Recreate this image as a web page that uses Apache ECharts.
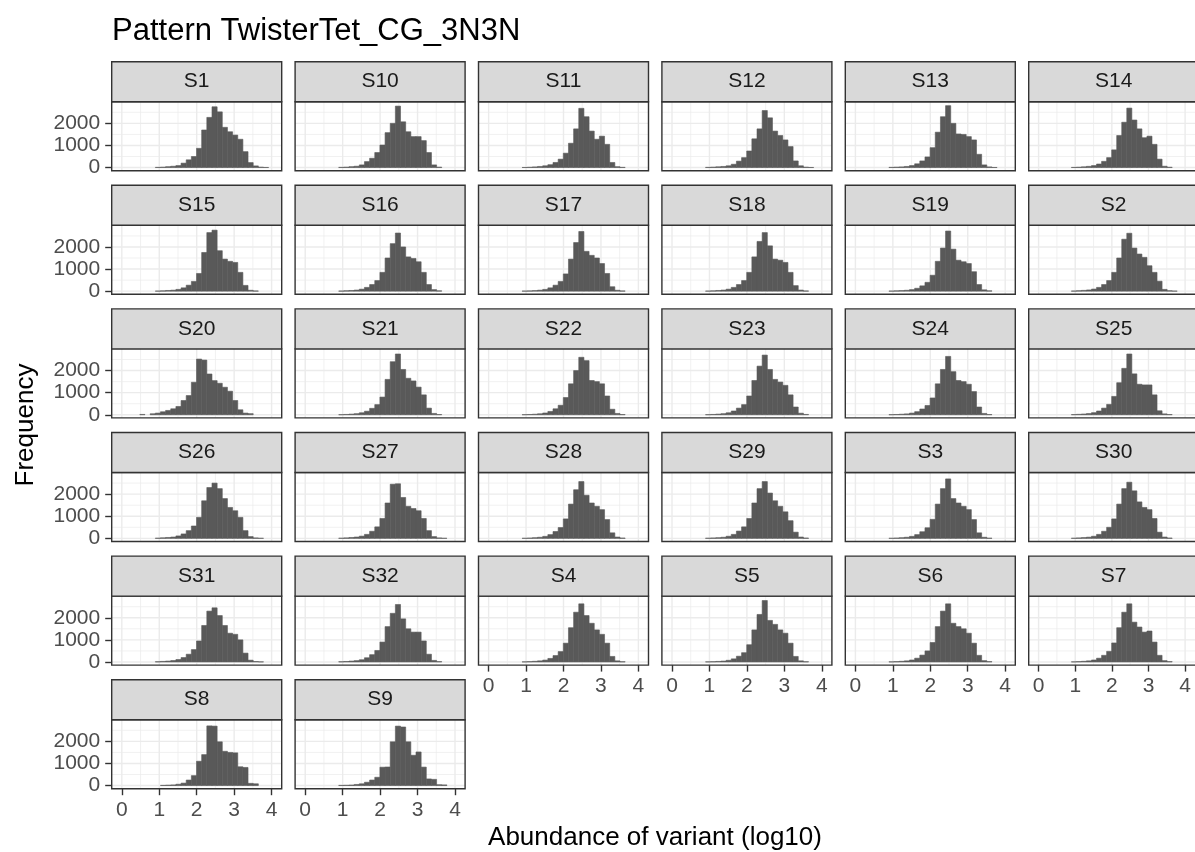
<!DOCTYPE html>
<html><head><meta charset="utf-8">
<script src="https://cdn.jsdelivr.net/npm/echarts@6/dist/echarts.min.js"></script>
<style>html,body{margin:0;padding:0;background:#fff}#c{width:1195px;height:852px}</style>
</head><body><div id="c"></div>
<script>
// ---- data ----
const binStart = -0.0688, binWidth = 0.1376;   // histogram bins (log10 abundance)
const xTicks = [0, 1, 2, 3, 4];
const xMinor = [0.5, 1.5, 2.5, 3.5];
const yTicks = [0, 1000, 2000];
const yMinor = [500, 1500, 2500];
const panelNames = ['S1','S10','S11','S12','S13','S14','S15','S16','S17','S18','S19','S2',
  'S20','S21','S22','S23','S24','S25','S26','S27','S28','S29','S3','S30',
  'S31','S32','S4','S5','S6','S7','S8','S9'];

const S1  = [0,0,0,0,0,0,0,10,20,40,60,90,200,350,500,870,1700,2270,2750,2520,1820,1620,1470,1280,720,225,75,20,5,0];
const S10 = [0,0,0,0,0,0,0,10,20,40,60,120,270,420,680,1020,1580,2000,2780,2070,1620,1400,1400,1220,680,120,20,0,0,0];
const S11 = [0,0,0,0,0,0,0,5,15,30,50,80,130,230,380,650,1100,1750,2680,2300,1650,1280,1420,1050,230,40,10,0,0,0];
const S12 = [0,0,0,0,0,0,0,10,20,35,50,80,150,290,450,750,1300,1750,2580,2250,1650,1450,1250,950,300,80,20,5,0,0];
const S13 = [0,0,0,0,0,0,0,10,20,30,50,90,170,300,480,900,1600,2300,2800,2000,1520,1500,1400,1250,600,120,30,5,0,0];
const S14 = [0,0,0,0,0,0,0,8,18,35,55,90,160,280,450,800,1450,2050,2690,2150,1750,1350,1420,1050,380,60,15,0,0,0];
const S15 = [0,0,0,0,0,0,0,5,15,30,45,80,150,270,440,800,1750,2650,2760,1830,1450,1350,1300,850,260,40,10,0,0,0];
const S16 = [0,0,0,0,0,0,0,8,18,30,50,90,170,300,480,850,1500,2150,2630,2000,1550,1480,1330,850,300,70,15,0,0,0];
const S17 = [0,0,0,0,0,0,0,5,12,25,45,80,150,270,440,780,1450,2200,2700,1800,1620,1500,1250,800,200,40,10,0,0,0];
const S18 = [0,0,0,0,0,0,0,5,15,30,50,90,170,300,480,850,1550,2250,2650,2050,1450,1400,1300,850,250,50,10,0,0,0];
const S19 = [0,0,0,0,0,0,0,5,15,25,40,70,130,240,400,720,1350,1950,2720,1900,1400,1330,1250,880,300,60,15,0,0,0];
const S2  = [0,0,0,0,0,0,0,8,20,35,55,95,170,300,480,850,1500,2350,2620,1950,1680,1530,1150,850,450,80,20,5,0,0];
const S20 = [0,0,0,0,15,0,45,75,135,195,270,375,645,870,1470,2520,2475,1845,1545,1425,1245,1065,645,225,75,50,0,0,0,0];
const S21 = [0,0,0,0,0,0,0,5,15,30,50,90,160,290,460,800,1600,2400,2750,2050,1650,1530,1250,900,300,60,10,0,0,0];
const S22 = [0,0,0,0,0,0,0,5,12,25,45,80,150,270,430,780,1400,2000,2600,2450,1550,1500,1400,850,250,60,10,0,0,0];
const S23 = [0,0,0,0,0,0,0,5,15,30,50,90,170,300,460,850,1550,2200,2700,2050,1600,1480,1330,900,350,70,15,0,0,0];
const S24 = [0,0,0,0,0,0,0,5,12,25,40,75,140,260,420,760,1400,2050,2640,1950,1550,1500,1380,1050,350,60,10,0,0,0];
const S25 = [0,0,0,0,0,0,0,8,20,35,55,95,170,300,470,830,1450,2100,2750,1850,1380,1350,1350,900,180,40,10,0,0,0];
const S26 = [0,0,0,0,0,0,0,10,25,40,60,110,200,350,560,950,1700,2300,2500,2250,1800,1400,1250,950,350,80,20,5,0,0];
const S27 = [0,0,0,0,0,0,0,10,22,40,60,100,180,320,520,900,1600,2450,2470,1850,1450,1350,1250,900,350,80,20,5,0,0];
const S28 = [0,0,0,0,0,0,0,5,15,30,50,90,170,310,490,880,1550,2200,2570,1950,1600,1450,1300,850,250,60,15,0,0,0];
const S29 = [0,0,0,0,0,0,0,8,18,30,50,95,180,330,520,900,1600,2250,2570,2050,1700,1450,1200,800,280,60,15,0,0,0];
const S3  = [0,0,0,0,0,0,0,5,15,30,50,90,170,300,480,860,1550,2250,2690,1800,1600,1450,1300,850,250,50,10,0,0,0];
const S30 = [0,0,0,0,0,0,0,8,20,35,55,95,180,320,500,880,1550,2250,2540,2150,1650,1400,1300,900,280,60,15,0,0,0];
const S31 = [0,0,0,0,0,0,0,10,25,40,65,110,200,350,560,950,1650,2300,2450,2100,1650,1300,1250,1000,400,80,20,5,0,0];
const S32 = [0,0,0,0,0,0,0,10,22,40,60,100,190,330,520,900,1600,2200,2600,1950,1500,1350,1350,950,350,70,15,0,0,0];
const S4  = [0,0,0,0,0,0,0,5,15,30,50,85,160,290,470,850,1550,2250,2630,2100,1750,1450,1250,850,250,50,10,0,0,0];
const S5  = [0,0,0,0,0,0,0,5,12,25,40,75,140,260,420,780,1450,2150,2780,1880,1700,1450,1300,850,250,50,10,0,0,0];
const S6  = [0,0,0,0,0,0,0,5,15,30,50,90,170,310,500,880,1600,2300,2630,1750,1600,1500,1300,850,300,60,15,0,0,0];
const S7  = [0,0,0,0,0,0,0,5,15,30,50,90,170,300,480,860,1550,2250,2630,1800,1580,1350,1400,900,300,60,15,0,0,0];
const S8  = [0,0,0,0,0,0,0,0,10,20,30,60,110,250,450,1100,1400,2700,2690,1980,1550,1500,1480,850,820,100,80,0,0,0];
const S9  = [0,0,0,0,0,0,0,10,15,25,50,80,150,250,375,830,840,1980,2690,2650,1980,1370,1520,835,300,280,40,30,0,0];

const countsByPanel = {S1,S10,S11,S12,S13,S14,S15,S16,S17,S18,S19,S2,S20,S21,S22,S23,S24,S25,
  S26,S27,S28,S29,S3,S30,S31,S32,S4,S5,S6,S7,S8,S9};

// ---- layout ----
const FONT = '"Liberation Sans", Arial, sans-serif';
const L0 = 111.7, COLP = 183.4, PW = 170, T0 = 61.7, ROWP = 123.6, STRIPH = 40, PH = 69;
const NCOL = 6;
const X_MIN = -0.27, X_MAX = 4.27, Y_MIN = -142, Y_MAX = 2980;

const grids = [], xAxes = [], yAxes = [], series = [], graphics = [];

panelNames.forEach((name, k) => {
  const col = k % NCOL, row = Math.floor(k / NCOL);
  const left = L0 + col * COLP, stripTop = T0 + row * ROWP, top = stripTop + STRIPH;
  const isBottom = row === 5 || (row === 4 && col >= 2);
  const isLeft = col === 0;
  grids.push({left: left, top: top, width: PW, height: PH, show: true, backgroundColor: '#fff', borderWidth: 0, containLabel: false});
  xAxes.push({
    type: 'value', gridIndex: k, min: X_MIN, max: X_MAX,
    axisLine: {show: false, onZero: false},
    splitLine: {show: false},
    axisTick: {show: isBottom, customValues: xTicks, length: 6.5, lineStyle: {color: '#333333', width: 1.4}},
    axisLabel: {show: isBottom, customValues: xTicks, margin: 11, color: '#4D4D4D', fontSize: 21, fontFamily: FONT,
      formatter: v => String(v)}
  });
  yAxes.push({
    type: 'value', gridIndex: k, min: Y_MIN, max: Y_MAX,
    axisLine: {show: false, onZero: false},
    splitLine: {show: false},
    axisTick: {show: isLeft, customValues: yTicks, length: 6.5, lineStyle: {color: '#333333', width: 1.4}},
    axisLabel: {show: isLeft, customValues: yTicks, margin: 11.5, color: '#4D4D4D', fontSize: 21, fontFamily: FONT,
      formatter: v => String(v)}
  });
  // grid lines
  const gl = [];
  xMinor.forEach(v => gl.push([v, 0, 0.7]));
  yMinor.forEach(v => gl.push([v, 1, 0.7]));
  xTicks.forEach(v => gl.push([v, 0, 1.4]));
  yTicks.forEach(v => gl.push([v, 1, 1.4]));
  series.push({
    type: 'custom', xAxisIndex: k, yAxisIndex: k, silent: true, z: 1,
    data: gl,
    renderItem: function (params, api) {
      const cs = params.coordSys;
      const v = api.value(0), dir = api.value(1), w = api.value(2);
      if (dir === 0) {
        const p = api.coord([v, 0]);
        return {type: 'line', shape: {x1: p[0], y1: cs.y, x2: p[0], y2: cs.y + cs.height}, style: {stroke: '#EBEBEB', lineWidth: w}};
      }
      const p = api.coord([0, v]);
      return {type: 'line', shape: {x1: cs.x, y1: p[1], x2: cs.x + cs.width, y2: p[1]}, style: {stroke: '#EBEBEB', lineWidth: w}};
    },
    encode: {x: 0, y: 0}
  });
  // histogram bars
  const counts = countsByPanel[name];
  const bars = [];
  counts.forEach((c, i) => {
    if (c > 0) bars.push([binStart + i * binWidth, binStart + (i + 1) * binWidth, c]);
  });
  series.push({
    type: 'custom', name: name, xAxisIndex: k, yAxisIndex: k, z: 2,
    data: bars,
    encode: {x: [0, 1], y: 2},
    renderItem: function (params, api) {
      const p0 = api.coord([api.value(0), api.value(2)]);
      const p1 = api.coord([api.value(1), 0]);
      return {type: 'rect', shape: {x: p0[0], y: p0[1], width: p1[0] - p0[0], height: p1[1] - p0[1]},
        style: {fill: '#595959', stroke: '#595959', lineWidth: 0.6}};
    }
  });
  // panel border
  graphics.push({type: 'rect', z: 100, silent: true, shape: {x: left, y: top, width: PW, height: PH},
    style: {fill: null, stroke: '#333333', lineWidth: 1.4}});
  // strip
  graphics.push({type: 'rect', z: 100, silent: true, shape: {x: left, y: stripTop, width: PW, height: STRIPH},
    style: {fill: '#D9D9D9', stroke: '#333333', lineWidth: 1.4}});
  graphics.push({type: 'text', z: 101, silent: true, x: left + PW / 2, y: stripTop + STRIPH / 2,
    style: {text: name, font: '21px ' + FONT, fill: '#1A1A1A', align: 'center', verticalAlign: 'middle'}});
});

// titles
graphics.push({type: 'text', z: 101, x: 112, y: 31,
  style: {text: 'Pattern TwisterTet_CG_3N3N', font: '31px ' + FONT, fill: '#000', align: 'left', verticalAlign: 'middle'}});
graphics.push({type: 'text', z: 101, x: 26, y: 425, rotation: Math.PI / 2,
  style: {text: 'Frequency', font: '26px ' + FONT, fill: '#000', align: 'center', verticalAlign: 'middle'}});
graphics.push({type: 'text', z: 101, x: 655, y: 838,
  style: {text: 'Abundance of variant (log10)', font: '26px ' + FONT, fill: '#000', align: 'center', verticalAlign: 'middle'}});

const chart = echarts.init(document.getElementById('c'), null, {renderer: 'canvas'});
chart.setOption({
  backgroundColor: '#fff',
  animation: false,
  grid: grids, xAxis: xAxes, yAxis: yAxes, series: series,
  graphic: {elements: graphics}
});
</script>
</body></html>
